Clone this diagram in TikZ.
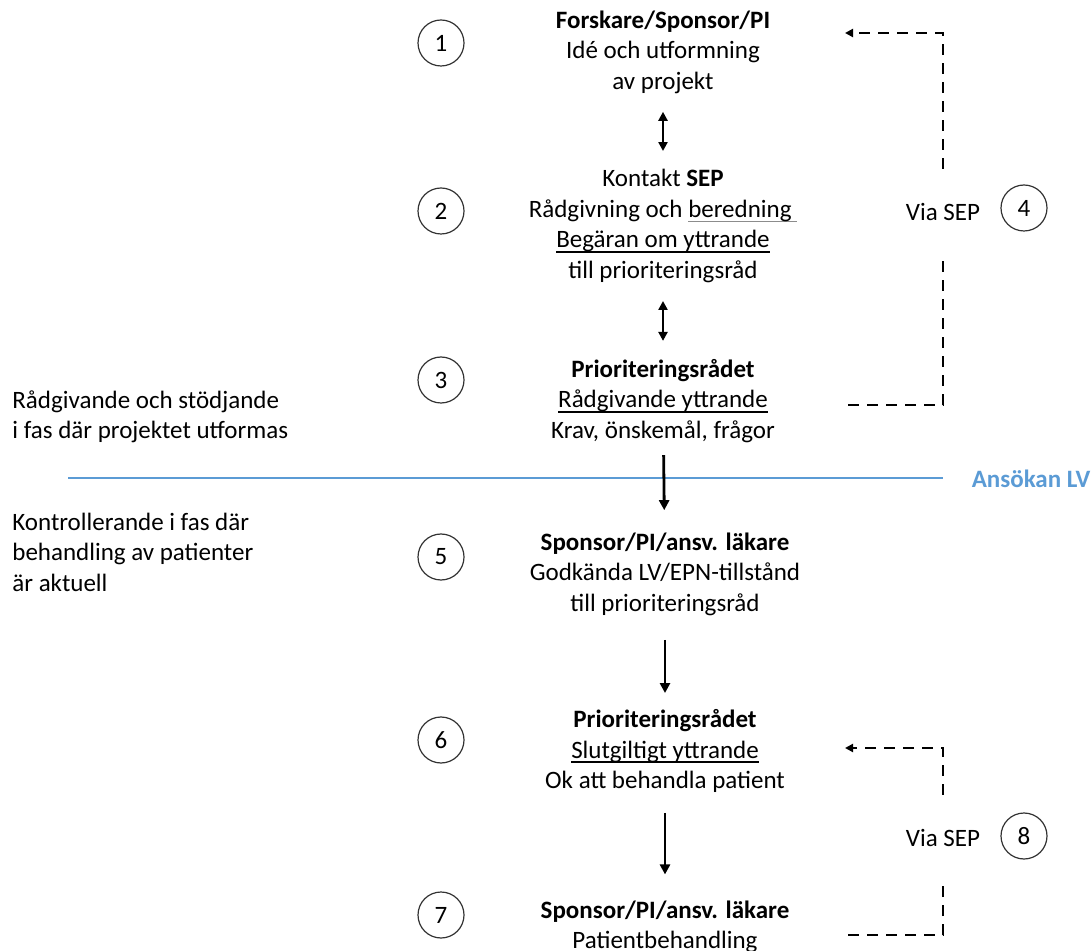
\documentclass[tikz,border=0pt]{standalone}
\usepackage{fontspec}
\setmainfont{Carlito}
\usepackage{xcolor}
\usepackage{tikz}
\usetikzlibrary{arrows.meta}
\definecolor{lvblue}{RGB}{91,155,213}
\tikzset{
  num/.style={circle,draw=black!80,line width=0.6pt,minimum size=23pt,inner sep=0pt,font=\fontsize{12.5}{15}\selectfont},
  blk/.style={align=center,inner sep=0pt,font=\fontsize{12.5}{15.25}\selectfont},
  side/.style={align=left,anchor=west,inner sep=0pt,font=\fontsize{12.5}{15.25}\selectfont},
  flow/.style={line width=1.4pt,-{Triangle[length=5pt,width=5pt]}},
  both/.style={line width=1.3pt,{Triangle[length=4.5pt,width=4.5pt]}-{Triangle[length=4.5pt,width=4.5pt]}},
  back/.style={line width=1.1pt,dash pattern=on 5.5pt off 4pt},
  phase/.style={lvblue,line width=0.8pt},
}
\newcommand{\ulin}[2][black]{\leavevmode\setbox0\hbox{#2}\rlap{\color{#1}\rule[-0.2em]{\wd0}{0.07em}}\box0}

\begin{document}
\begin{tikzpicture}[x=0.5pt,y=-0.5pt]
  \useasboundingbox (0,0) rectangle (1092,951);
  \node[num] (n1) at (441,43){1};
  \node[num] (n2) at (441,211){2};
  \node[num] (n3) at (441,380){3};
  \node[num] (n5) at (441,557){5};
  \node[num] (n6) at (441,740){6};
  \node[num] (n7) at (441,915){7};
  \node[num] (n4) at (1024,208){4};
  \node[num] (n8) at (1024,836){8};

  \node[blk] (b1) at (663,52){\textbf{Forskare/Sponsor/PI}\\Idé och utformning\\av projekt};
  \node[blk] (b2) at (663,226){Kontakt \textbf{SEP}\\Rådgivning och \ulin[black!45]{beredning\ }\\\ulin{Begäran om yttrande}\\till prioriteringsråd};
  \node[blk] (b3) at (663,401){\textbf{Prioriteringsrådet}\\\ulin{Rådgivande yttrande}\\Krav, önskemål, frågor};
  \node[blk] (b5) at (665,574){\textbf{Sponsor/PI/ansv. läkare}\\Godkända LV/EPN-tillstånd\\till prioriteringsråd};
  \node[blk] (b6) at (665,751){\textbf{Prioriteringsrådet}\\\ulin{Slutgiltigt yttrande}\\Ok att behandla patient};
  \node[blk] (b7) at (665,927){\textbf{Sponsor/PI/ansv. läkare}\\Patientbehandling};

  \node[side] (s1) at (12,417){Rådgivande och stödjande\\i fas där projektet utformas};
  \node[side] (s2) at (12,552){Kontrollerande i fas där\\behandling av patienter\\är aktuell};

  \node[blk] (v4) at (943,212){Via SEP};
  \node[blk] (v8) at (943,838){Via SEP};
  \node[blk,text=lvblue,font=\fontsize{12.5}{15}\selectfont\bfseries] (lv) at (1031,479){Ansökan LV};

  \coordinate (p0) at (68,478);
  \coordinate (p1) at (943,478);
  \draw[phase] (p0) -- (p1);

  \draw[both,shorten <=9pt,shorten >=9pt] (b1) -- (b2);
  \draw[both,shorten <=9pt,shorten >=9pt] (b2) -- (b3);
  \draw[flow,shorten <=6pt,shorten >=11pt] (b3) -- (b5);
  \draw[flow,shorten <=12pt,shorten >=8pt] (b5) -- (b6);
  \draw[flow,shorten <=10pt,shorten >=13pt] (b6) -- (b7);

  \coordinate (r3) at (848,405);
  \coordinate (t1) at (845,33);
  \draw[back,shorten >=19pt] (r3) -| (v4.south);
  \draw[back,-{Triangle[length=4pt,width=4pt]},shorten <=17pt] (v4.north) |- (t1);

  \coordinate (r7) at (848,935);
  \coordinate (t6) at (845,748);
  \draw[back,shorten >=18pt] (r7) -| (v8.south);
  \draw[back,-{Triangle[length=4pt,width=4pt]},shorten <=17pt] (v8.north) |- (t6);
\end{tikzpicture}
\end{document}
